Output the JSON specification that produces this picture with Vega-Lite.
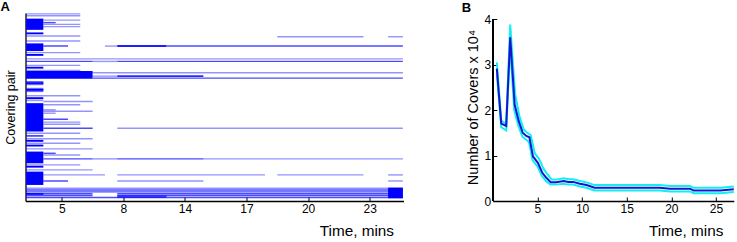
{
  "$schema": "https://vega.github.io/schema/vega-lite/v6.json",
  "padding": {"left": 0.5, "top": 1, "right": 0, "bottom": 0},
  "spacing": 57.3,
  "config": {
    "font": "Liberation Sans",
    "view": {"stroke": null},
    "axis": {
      "domainColor": "#000000", "domainWidth": 1.3,
      "tickColor": "#000000", "tickSize": -4, "tickWidth": 1,
      "labelColor": "#000000", "labelFontSize": 12, "labelPadding": 6,
      "titleColor": "#000000", "titleFontSize": 12.5, "titleFontWeight": "normal",
      "grid": false
    },
    "title": {"fontSize": 13, "fontWeight": "bold", "anchor": "start", "frame": "bounds", "color": "#000000"}
  },
  "hconcat": [
    {
      "width": 378,
      "height": 188,
      "title": {"text": "A", "offset": -1, "dx": -3.5},
      "data": {
        "values": [
          {"t0": 2.1, "t1": 6.5, "p0": 0.2, "p1": 2.0, "n": 1},
          {"t0": 2.1, "t1": 6.5, "p0": 2.6, "p1": 4.4, "n": 1},
          {"t0": 2.1, "t1": 3.5, "p0": 7.2, "p1": 21.5, "n": 3},
          {"t0": 3.5, "t1": 6.5, "p0": 8.2, "p1": 10.0, "n": 1},
          {"t0": 3.5, "t1": 4.5, "p0": 11.4, "p1": 13.2, "n": 2},
          {"t0": 3.5, "t1": 6.5, "p0": 13.6, "p1": 15.4, "n": 1},
          {"t0": 3.5, "t1": 6.5, "p0": 16.5, "p1": 18.3, "n": 1},
          {"t0": 2.1, "t1": 3.5, "p0": 24.8, "p1": 27.2, "n": 3},
          {"t0": 2.1, "t1": 6.5, "p0": 28.5, "p1": 30.3, "n": 1},
          {"t0": 22.5, "t1": 29.5, "p0": 29.4, "p1": 31.2, "n": 1},
          {"t0": 31.5, "t1": 32.7, "p0": 29.4, "p1": 31.2, "n": 1},
          {"t0": 2.1, "t1": 6.5, "p0": 34.9, "p1": 36.7, "n": 1},
          {"t0": 2.1, "t1": 3.5, "p0": 38.8, "p1": 48.6, "n": 3},
          {"t0": 3.5, "t1": 5.5, "p0": 41.3, "p1": 43.1, "n": 2},
          {"t0": 8.5, "t1": 9.5, "p0": 41.3, "p1": 43.1, "n": 1},
          {"t0": 9.5, "t1": 13.5, "p0": 41.0, "p1": 43.4, "n": 2.6},
          {"t0": 13.5, "t1": 32.7, "p0": 41.3, "p1": 43.1, "n": 2},
          {"t0": 2.1, "t1": 6.5, "p0": 49.7, "p1": 51.5, "n": 1},
          {"t0": 2.1, "t1": 3.5, "p0": 52.3, "p1": 54.7, "n": 3},
          {"t0": 2.1, "t1": 32.7, "p0": 57.7, "p1": 59.5, "n": 1},
          {"t0": 2.1, "t1": 7.5, "p0": 60.9, "p1": 62.7, "n": 2},
          {"t0": 7.5, "t1": 9.5, "p0": 60.9, "p1": 62.7, "n": 1},
          {"t0": 9.5, "t1": 32.7, "p0": 60.9, "p1": 62.7, "n": 2},
          {"t0": 2.1, "t1": 6.5, "p0": 66.0, "p1": 67.8, "n": 1},
          {"t0": 2.1, "t1": 3.5, "p0": 68.6, "p1": 71.0, "n": 3},
          {"t0": 2.1, "t1": 6.5, "p0": 72.4, "p1": 74.2, "n": 1},
          {"t0": 2.1, "t1": 7.5, "p0": 74.2, "p1": 83.9, "n": 3},
          {"t0": 7.5, "t1": 32.7, "p0": 75.3, "p1": 77.1, "n": 1},
          {"t0": 7.5, "t1": 9.5, "p0": 79.7, "p1": 81.5, "n": 1},
          {"t0": 9.5, "t1": 16.5, "p0": 79.5, "p1": 81.7, "n": 2.4},
          {"t0": 7.5, "t1": 32.7, "p0": 82.2, "p1": 84.0, "n": 2},
          {"t0": 2.1, "t1": 3.5, "p0": 86.8, "p1": 92.2, "n": 1.6},
          {"t0": 2.1, "t1": 3.5, "p0": 88.5, "p1": 90.5, "n": 3},
          {"t0": 2.1, "t1": 3.5, "p0": 95.5, "p1": 101.0, "n": 1.6},
          {"t0": 2.1, "t1": 3.5, "p0": 97.0, "p1": 99.2, "n": 3},
          {"t0": 2.1, "t1": 6.5, "p0": 104.7, "p1": 106.5, "n": 1},
          {"t0": 2.1, "t1": 3.5, "p0": 107.5, "p1": 110.0, "n": 3},
          {"t0": 2.1, "t1": 3.5, "p0": 110.8, "p1": 112.6, "n": 1},
          {"t0": 3.5, "t1": 7.5, "p0": 112.0, "p1": 113.8, "n": 1},
          {"t0": 2.1, "t1": 3.5, "p0": 115.1, "p1": 151.3, "n": 3},
          {"t0": 3.5, "t1": 6.5, "p0": 116.3, "p1": 118.1, "n": 1},
          {"t0": 3.5, "t1": 4.5, "p0": 122.7, "p1": 124.5, "n": 1},
          {"t0": 3.5, "t1": 7.5, "p0": 124.5, "p1": 126.3, "n": 1},
          {"t0": 3.5, "t1": 4.5, "p0": 127.0, "p1": 128.8, "n": 1},
          {"t0": 3.5, "t1": 5.5, "p0": 134.7, "p1": 136.5, "n": 2},
          {"t0": 3.5, "t1": 6.5, "p0": 138.4, "p1": 140.2, "n": 1},
          {"t0": 3.5, "t1": 6.5, "p0": 141.2, "p1": 143.0, "n": 1},
          {"t0": 3.5, "t1": 7.5, "p0": 146.2, "p1": 148.0, "n": 2},
          {"t0": 9.5, "t1": 32.7, "p0": 146.2, "p1": 148.0, "n": 1},
          {"t0": 2.1, "t1": 6.5, "p0": 152.6, "p1": 154.4, "n": 1},
          {"t0": 2.1, "t1": 3.5, "p0": 155.7, "p1": 158.0, "n": 2},
          {"t0": 2.1, "t1": 7.5, "p0": 159.7, "p1": 161.5, "n": 1},
          {"t0": 2.1, "t1": 3.5, "p0": 162.0, "p1": 164.4, "n": 3},
          {"t0": 2.1, "t1": 6.5, "p0": 165.4, "p1": 167.2, "n": 1},
          {"t0": 2.1, "t1": 3.5, "p0": 168.0, "p1": 170.4, "n": 3},
          {"t0": 2.1, "t1": 7.5, "p0": 172.5, "p1": 174.3, "n": 1},
          {"t0": 2.1, "t1": 3.5, "p0": 176.9, "p1": 191.9, "n": 3},
          {"t0": 3.5, "t1": 4.5, "p0": 178.2, "p1": 180.0, "n": 2},
          {"t0": 3.5, "t1": 6.5, "p0": 180.4, "p1": 182.2, "n": 1},
          {"t0": 3.5, "t1": 7.5, "p0": 185.3, "p1": 187.1, "n": 2},
          {"t0": 7.5, "t1": 9.5, "p0": 185.3, "p1": 187.1, "n": 1},
          {"t0": 9.5, "t1": 16.5, "p0": 185.3, "p1": 187.1, "n": 2},
          {"t0": 16.5, "t1": 32.7, "p0": 185.3, "p1": 187.1, "n": 1},
          {"t0": 2.1, "t1": 6.5, "p0": 193.0, "p1": 194.8, "n": 1},
          {"t0": 2.1, "t1": 3.5, "p0": 195.0, "p1": 197.4, "n": 3},
          {"t0": 2.1, "t1": 7.5, "p0": 199.4, "p1": 201.2, "n": 1},
          {"t0": 2.1, "t1": 3.5, "p0": 202.5, "p1": 219.5, "n": 3},
          {"t0": 3.5, "t1": 8.5, "p0": 205.8, "p1": 207.6, "n": 1},
          {"t0": 9.5, "t1": 21.5, "p0": 205.8, "p1": 207.6, "n": 1},
          {"t0": 22.5, "t1": 29.5, "p0": 205.8, "p1": 207.6, "n": 1},
          {"t0": 31.5, "t1": 32.7, "p0": 205.8, "p1": 207.6, "n": 1},
          {"t0": 3.5, "t1": 5.5, "p0": 213.5, "p1": 215.3, "n": 2},
          {"t0": 9.5, "t1": 16.5, "p0": 213.5, "p1": 215.3, "n": 1},
          {"t0": 31.5, "t1": 32.7, "p0": 213.5, "p1": 215.3, "n": 1},
          {"t0": 2.1, "t1": 32.7, "p0": 222.8, "p1": 224.6, "n": 1},
          {"t0": 2.1, "t1": 32.7, "p0": 225.0, "p1": 227.0, "n": 2},
          {"t0": 2.1, "t1": 32.7, "p0": 227.5, "p1": 229.3, "n": 2},
          {"t0": 2.1, "t1": 7.5, "p0": 229.8, "p1": 231.6, "n": 2},
          {"t0": 9.5, "t1": 32.7, "p0": 229.8, "p1": 231.6, "n": 2},
          {"t0": 2.1, "t1": 7.5, "p0": 232.0, "p1": 234.0, "n": 2},
          {"t0": 9.5, "t1": 32.7, "p0": 232.0, "p1": 234.0, "n": 2},
          {"t0": 2.1, "t1": 32.7, "p0": 234.5, "p1": 236.5, "n": 2},
          {"t0": 9.5, "t1": 13.5, "p0": 233.0, "p1": 236.0, "n": 2},
          {"t0": 31.5, "t1": 32.7, "p0": 223.0, "p1": 236.5, "n": 3},
          {"t0": 2.1, "t1": 3.5, "p0": 230.0, "p1": 232.0, "n": 3}
        ]
      },
      "mark": {"type": "rect", "color": "#0000ff"},
      "encoding": {
        "x": {
          "field": "t0", "type": "quantitative",
          "scale": {"domain": [2.05, 32.75], "nice": false, "zero": false},
          "axis": {
            "values": [5, 10, 15, 20, 25, 30],
            "labelExpr": "['5','8','14','17','20','23'][datum.value / 5 - 1]",
            "title": "Time, mins", "titleAlign": "right", "titleBaseline": "alphabetic",
            "titleX": 368, "titleY": 34, "titleFontSize": 15.3
          }
        },
        "x2": {"field": "t1"},
        "y": {
          "field": "p0", "type": "quantitative",
          "scale": {"domain": [0, 240], "reverse": true, "nice": false, "zero": false},
          "axis": {"values": [80, 130, 180, 230], "labels": false, "title": "Covering pair", "titlePadding": 8}
        },
        "y2": {"field": "p1"},
        "opacity": {"field": "n", "type": "quantitative", "scale": {"domain": [1, 3], "range": [0.42, 1]}, "legend": null}
      }
    },
    {
      "width": 241,
      "height": 188,
      "title": {"text": "B", "offset": -2, "dx": -3.5},
      "data": {
        "values": [
          {"t": 0.45, "v": 3.05, "s": "upper"}, {"t": 0.95, "v": 1.76, "s": "upper"}, {"t": 1.5, "v": 1.7, "s": "upper"},
          {"t": 1.95, "v": 3.88, "s": "upper"}, {"t": 2.5, "v": 2.35, "s": "upper"}, {"t": 3.0, "v": 1.85, "s": "upper"},
          {"t": 3.45, "v": 1.58, "s": "upper"}, {"t": 3.85, "v": 1.5, "s": "upper"}, {"t": 4.25, "v": 1.45, "s": "upper"},
          {"t": 4.7, "v": 1.05, "s": "upper"}, {"t": 5.2, "v": 0.92, "s": "upper"}, {"t": 5.7, "v": 0.7, "s": "upper"},
          {"t": 6.2, "v": 0.57, "s": "upper"}, {"t": 6.6, "v": 0.47, "s": "upper"}, {"t": 7.1, "v": 0.47, "s": "upper"},
          {"t": 7.95, "v": 0.5, "s": "upper"}, {"t": 8.5, "v": 0.48, "s": "upper"}, {"t": 9.0, "v": 0.48, "s": "upper"},
          {"t": 9.75, "v": 0.44, "s": "upper"}, {"t": 10.5, "v": 0.41, "s": "upper"}, {"t": 11.4, "v": 0.35, "s": "upper"},
          {"t": 15.0, "v": 0.35, "s": "upper"}, {"t": 18.7, "v": 0.35, "s": "upper"}, {"t": 19.85, "v": 0.33, "s": "upper"},
          {"t": 22.1, "v": 0.33, "s": "upper"}, {"t": 22.5, "v": 0.29, "s": "upper"}, {"t": 25.5, "v": 0.29, "s": "upper"},
          {"t": 27.0, "v": 0.32, "s": "upper"},
          {"t": 0.45, "v": 2.8, "s": "lower"}, {"t": 0.95, "v": 1.62, "s": "lower"}, {"t": 1.5, "v": 1.55, "s": "lower"},
          {"t": 1.95, "v": 3.4, "s": "lower"}, {"t": 2.4, "v": 2.0, "s": "lower"}, {"t": 2.85, "v": 1.66, "s": "lower"},
          {"t": 3.3, "v": 1.42, "s": "lower"}, {"t": 3.7, "v": 1.35, "s": "lower"}, {"t": 4.05, "v": 1.3, "s": "lower"},
          {"t": 4.45, "v": 0.9, "s": "lower"}, {"t": 5.0, "v": 0.76, "s": "lower"}, {"t": 5.5, "v": 0.55, "s": "lower"},
          {"t": 5.95, "v": 0.44, "s": "lower"}, {"t": 6.45, "v": 0.36, "s": "lower"}, {"t": 7.1, "v": 0.36, "s": "lower"},
          {"t": 7.95, "v": 0.38, "s": "lower"}, {"t": 8.45, "v": 0.36, "s": "lower"}, {"t": 9.0, "v": 0.36, "s": "lower"},
          {"t": 9.75, "v": 0.32, "s": "lower"}, {"t": 10.5, "v": 0.29, "s": "lower"}, {"t": 11.4, "v": 0.23, "s": "lower"},
          {"t": 15.0, "v": 0.23, "s": "lower"}, {"t": 18.7, "v": 0.23, "s": "lower"}, {"t": 19.85, "v": 0.21, "s": "lower"},
          {"t": 22.1, "v": 0.21, "s": "lower"}, {"t": 22.5, "v": 0.17, "s": "lower"}, {"t": 25.5, "v": 0.17, "s": "lower"},
          {"t": 27.0, "v": 0.2, "s": "lower"},
          {"t": 0.45, "v": 2.91, "s": "mean"}, {"t": 0.95, "v": 1.7, "s": "mean"}, {"t": 1.5, "v": 1.65, "s": "mean"},
          {"t": 1.95, "v": 3.6, "s": "mean"}, {"t": 2.45, "v": 2.12, "s": "mean"}, {"t": 2.9, "v": 1.76, "s": "mean"},
          {"t": 3.35, "v": 1.5, "s": "mean"}, {"t": 3.75, "v": 1.43, "s": "mean"}, {"t": 4.1, "v": 1.4, "s": "mean"},
          {"t": 4.5, "v": 0.98, "s": "mean"}, {"t": 5.05, "v": 0.84, "s": "mean"}, {"t": 5.55, "v": 0.62, "s": "mean"},
          {"t": 6.0, "v": 0.51, "s": "mean"}, {"t": 6.5, "v": 0.41, "s": "mean"}, {"t": 7.1, "v": 0.41, "s": "mean"},
          {"t": 7.95, "v": 0.44, "s": "mean"}, {"t": 8.45, "v": 0.42, "s": "mean"}, {"t": 9.0, "v": 0.42, "s": "mean"},
          {"t": 9.75, "v": 0.38, "s": "mean"}, {"t": 10.5, "v": 0.35, "s": "mean"}, {"t": 11.4, "v": 0.29, "s": "mean"},
          {"t": 13.0, "v": 0.29, "s": "mean"}, {"t": 15.0, "v": 0.29, "s": "mean"}, {"t": 17.0, "v": 0.29, "s": "mean"},
          {"t": 18.7, "v": 0.29, "s": "mean"}, {"t": 19.85, "v": 0.27, "s": "mean"}, {"t": 22.1, "v": 0.27, "s": "mean"},
          {"t": 22.5, "v": 0.23, "s": "mean"}, {"t": 25.5, "v": 0.23, "s": "mean"}, {"t": 27.0, "v": 0.26, "s": "mean"}
        ]
      },
      "encoding": {
        "x": {
          "field": "t", "type": "quantitative",
          "scale": {"domain": [0, 27], "nice": false, "zero": false},
          "axis": {
            "values": [5, 10, 15, 20, 25],
            "title": "Time, mins", "titleAlign": "right", "titleBaseline": "alphabetic",
            "titleX": 230, "titleY": 34, "titleFontSize": 15.3
          }
        },
        "y": {
          "field": "v", "type": "quantitative",
          "scale": {"domain": [0, 4.132], "nice": false},
          "axis": {"values": [0, 1, 2, 3, 4], "domain": false, "title": "Number of Covers x 10⁴", "titleFontSize": 14.5, "titlePadding": 4}
        }
      },
      "layer": [
        {
          "mark": {"type": "rule", "color": "#000000", "strokeWidth": 1.3},
          "encoding": {"x": {"datum": 0}, "y": {"datum": 0}, "y2": {"datum": 4}}
        },
        {
          "transform": [{"filter": "datum.s != 'mean'"}],
          "mark": {"type": "line", "color": "#10f0f0", "strokeWidth": 2},
          "encoding": {"detail": {"field": "s"}}
        },
        {
          "transform": [{"filter": "datum.s == 'mean'"}],
          "mark": {"type": "line", "color": "#1414d2", "strokeWidth": 2}
        }
      ]
    }
  ]
}
